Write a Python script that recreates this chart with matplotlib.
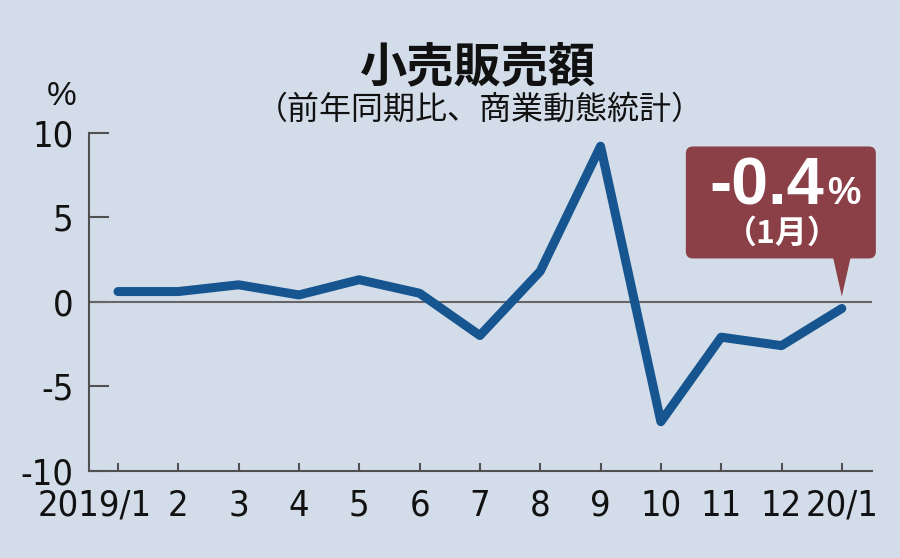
import numpy as np
import matplotlib.pyplot as plt
import matplotlib.transforms as mtransforms
from matplotlib import font_manager
from matplotlib.patches import FancyBboxPatch, Polygon

# 小売販売額 (前年同期比、商業動態統計)
months = ['2019/1', '2', '3', '4', '5', '6', '7', '8', '9', '10', '11', '12', '20/1']
change = [0.6, 0.6, 1.0, 0.4, 1.3, 0.5, -2.0, 1.8, 9.2, -7.1, -2.1, -2.6, -0.4]
y_ticks = [-10, -5, 0, 5, 10]
y_ticklabels = ['-10', '-5', '0', '5', '10']
callout_value = '-0.4'
callout_month = '（1月）'

bg = '#d3dde9'
line_col = '#175590'
box_col = '#8b4048'
axis_col = '#505050'
jp_font = ['Noto Sans CJK JP', 'DejaVu Sans']


def find_narrow_font():
    # the axis numbers in the original are in a condensed face
    found = {}
    for f in font_manager.fontManager.ttflist:
        low = f.fname.lower()
        if f.style != 'normal' or 'bold' in low or 'italic' in low or 'oblique' in low:
            continue
        if 'narrow' in low or 'condensed' in low or str(f.stretch) in ('condensed', 'semi-condensed'):
            found[f.name + '|' + low] = f.fname
    for key in ['liberation sans narrow', 'dejavu sans']:
        for k, v in found.items():
            if k.lower().startswith(key):
                return v, key
    return None, None


narrow_file, narrow_name = find_narrow_font()
if narrow_file and narrow_name == 'liberation sans narrow':
    num_prop = dict(fontproperties=font_manager.FontProperties(fname=narrow_file))
    x_size, y_size = 31, 29
elif narrow_file:
    num_prop = dict(fontproperties=font_manager.FontProperties(fname=narrow_file))
    x_size, y_size = 26, 26
else:
    num_prop = dict(family=['Liberation Sans', 'DejaVu Sans'])
    x_size, y_size = 24, 26

fig = plt.figure(figsize=(9, 5.58), dpi=100, facecolor=bg)
ax = fig.add_axes([89 / 900, 1 - 470.7 / 558, 783 / 900, 338 / 558])
ax.set_facecolor(bg)

x = np.arange(len(months))
ax.plot(x, change, color=line_col, linewidth=6.5,
        solid_capstyle='round', solid_joinstyle='round', zorder=3)
ax.axhline(0, color='#666666', linewidth=1.5, zorder=2)

ax.set_xlim(-0.48, 12.5)
ax.set_ylim(-10, 10)

for side in ['top', 'right']:
    ax.spines[side].set_visible(False)
for side in ['left', 'bottom']:
    ax.spines[side].set_color(axis_col)
    ax.spines[side].set_linewidth(1.5)

ax.set_yticks(y_ticks)
ax.set_yticklabels(y_ticklabels, color='#111111', **num_prop)
for lab in ax.get_yticklabels():
    lab.set_fontsize(y_size)
ax.tick_params(axis='y', direction='in', length=14.5, width=1.5,
               color=axis_col, pad=11)
ax.set_xticks(x)
ax.set_xticklabels(months, color='#111111', **num_prop)
for lab in ax.get_xticklabels():
    lab.set_fontsize(x_size)
ax.tick_params(axis='x', direction='in', length=6, width=1.5,
               color=axis_col, pad=13)
# first label sits left of its tick
first = ax.get_xticklabels()[0]
first.set_transform(first.get_transform() +
                    mtransforms.ScaledTranslation(-23 / 100, 0, fig.dpi_scale_trans))

# titles
fig.text(478 / 900, 1 - 67.5 / 558, '小売販売額', family=jp_font, fontsize=34,
         fontweight='bold', ha='center', va='center', color='#111111')
fig.text(480 / 900, 1 - 110 / 558, '（前年同期比、商業動態統計）', family=jp_font,
         fontsize=23, ha='center', va='center', color='#111111')
fig.text(62 / 900, 1 - 96 / 558, '%', family=['Liberation Sans', 'DejaVu Sans'],
         fontsize=24, ha='center', va='center', color='#111111')

# callout pointing at the latest value (offsets in pixels from the tip)
fig.canvas.draw()
tx, ty = ax.transData.transform((x[-1], change[-1]))
ty += 12
box = FancyBboxPatch((tx - 156, ty + 38), 190, 112,
                     boxstyle='round,pad=0,rounding_size=7',
                     transform=None, facecolor=box_col, edgecolor='none',
                     clip_on=False, zorder=5)
fig.patches.append(box)
tri = Polygon([(tx - 9, ty + 40), (tx + 9, ty + 40), (tx, ty)], closed=True,
              transform=None, facecolor=box_col, edgecolor='none',
              clip_on=False, zorder=5)
fig.patches.append(tri)

inv = fig.transFigure.inverted()
p1 = inv.transform((tx - 18, ty + 92))
fig.text(p1[0], p1[1], callout_value, family=['Liberation Sans', 'DejaVu Sans'],
         fontsize=48, fontweight='bold', color='white', ha='right',
         va='baseline', zorder=6)
p2 = inv.transform((tx - 15, ty + 92))
fig.text(p2[0], p2[1], '%', family=['Liberation Sans', 'DejaVu Sans'],
         fontsize=27, fontweight='bold', color='white', ha='left',
         va='baseline', zorder=6)
p3 = inv.transform((tx - 60, ty + 63))
fig.text(p3[0], p3[1], callout_month, family=jp_font, fontsize=23,
         fontweight='bold', color='white', ha='center', va='center', zorder=6)

fig.savefig('out.png', dpi=100, facecolor=bg)
